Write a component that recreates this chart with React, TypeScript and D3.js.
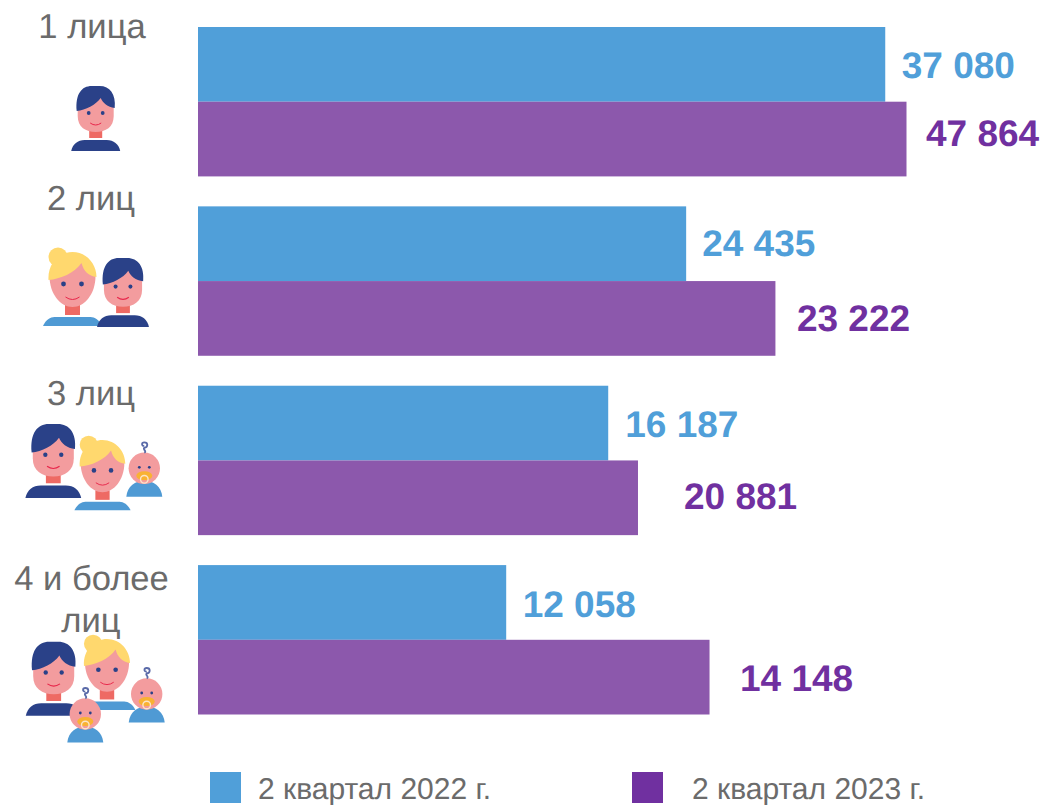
import React from "react";
import * as d3 from "d3";

const categories = ["1 лица", "2 лиц", "3 лиц", "4 и более лиц"];
const seriesNames = ["2 квартал 2022 г.", "2 квартал 2023 г."];
// Labels printed on the chart
const labels2022 = ["37 080", "24 435", "16 187", "12 058"];
const labels2023 = ["47 864", "23 222", "20 881", "14 148"];
// Drawn bar length in the picture, as % of the longest (the source bars are not proportional to the labels)
const bars2022 = [97.0, 68.9, 57.9, 43.5];
const bars2023 = [100, 81.5, 62.1, 72.2];
const gaps2022 = [16.5, 16, 17, 16.5];
const gaps2023 = [19.5, 21.5, 46, 30.5];
const shifts2022 = [1, -1, 1, 2];
const shifts2023 = [-6, 0, -2, 1];

const W = 1046, H = 805;
const BLUE = "#509FD9", PURPLE_BAR = "#8C58AC", PURPLE = "#7030A0";
const GREY = "#6B6B6B", FONT = "'Liberation Sans', Arial, sans-serif";
const NAVY = "#2A4188", SKIN = "#F39C9E", NECK = "#EE6A64", SMILE = "#E8274B", HAIR = "#FFD86E", SHIRT = "#4F9AD4", GOLD = "#F9B233";

const x = d3.scaleLinear().domain([0, 100]).range([198, 906.5]);
const y = d3.scaleBand<string>().domain(categories).range([27, 714.5]).paddingInner(0.167);
const sub = d3.scaleBand<number>().domain([0, 1]).range([0, y.bandwidth()]);

function Man({ cx, top, s }: { cx: number; top: number; s: number }) {
  return (
    <g transform={`translate(${cx},${top}) scale(${s})`}>
      <path d="M-24.5,65 C-23,58 -18,54 -11,54 H11 C18,54 23,58 24.5,65 Z" fill={NAVY} />
      <rect x={-6.5} y={44} width={13} height={8} fill={NECK} />
      <path d="M-18,18 Q0,-4 18,18 V30 C18,41 10,46 0,46 C-10,46 -18,41 -18,30 Z" fill={SKIN} />
      <path d="M-19,25 C-20.5,8 -14,0 -4,0 H4 C14,0 20.5,8 19,22 C12,21 7,17 5,12 C0,19 -10,24 -19,25 Z" fill={NAVY} />
      <circle cx={-7} cy={27} r={1.9} fill={NAVY} />
      <circle cx={7} cy={27} r={1.9} fill={NAVY} />
      <path d="M-5.5,37 Q0,41 5.5,37" fill="none" stroke={SMILE} strokeWidth={1} />
    </g>
  );
}

function Woman({ cx, top, s }: { cx: number; top: number; s: number }) {
  return (
    <g transform={`translate(${cx},${top}) scale(${s})`}>
      <path d="M-29.5,74 C-27,68 -22,65 -18,65 H18 C22,65 27,68 29.5,74 Z" fill={SHIRT} />
      <rect x={-7.5} y={53} width={15} height={10} fill={NECK} />
      <path d="M-23,24 Q0,-16 23,24 C23,42 12,55 0,55 C-12,55 -23,42 -23,24 Z" fill={SKIN} />
      <circle cx={-14.5} cy={5} r={9.5} fill={HAIR} />
      <path d="M-24,28 C-25,10 -12,0 0,0 C14,0 24,12 24,25 C16,24 11,19 9,11 C2,21 -12,27 -24,28 Z" fill={HAIR} />
      <circle cx={-9} cy={32} r={2.4} fill={NAVY} />
      <circle cx={9} cy={32} r={2.4} fill={NAVY} />
      <path d="M-7,45 Q0,50 7,45" fill="none" stroke={SMILE} strokeWidth={1} />
    </g>
  );
}

function Baby({ cx, cy }: { cx: number; cy: number }) {
  return (
    <g transform={`translate(${cx},${cy})`}>
      <path d="M-18,28.5 C-17,18 -9,12.5 0,12.5 C9,12.5 17,18 18,28.5 Z" fill={SHIRT} />
      <circle r={15.7} fill={SKIN} />
      <path d="M0,-15.5 C3,-17 -2,-19 0,-20.5 C4,-21 4,-26 0,-26 C-3,-26 -3,-22 0,-22.5" fill="none" stroke="#5A6AA8" strokeWidth={1.8} />
      <circle cx={-5} cy={-1} r={1.4} fill={NAVY} />
      <circle cx={5} cy={-1} r={1.4} fill={NAVY} />
      <ellipse cx={0} cy={7.5} rx={8} ry={4.5} fill={GOLD} />
      <circle cx={0} cy={11} r={3.8} fill="none" stroke="#FCE5C8" strokeWidth={1.4} />
    </g>
  );
}

export default function App() {
  const series = [
    { bars: bars2022, labels: labels2022, gaps: gaps2022, shifts: shifts2022, bar: BLUE, text: BLUE },
    { bars: bars2023, labels: labels2023, gaps: gaps2023, shifts: shifts2023, bar: PURPLE_BAR, text: PURPLE },
  ];
  return (
    <svg width={W} height={H} viewBox={`0 0 ${W} ${H}`} style={{ position: "absolute", left: 0, top: 0, background: "#fff" }} fontFamily={FONT} textRendering="geometricPrecision">
      {categories.map((c, i) =>
        series.map((s, j) => {
          const by = (y(c) as number) + (sub(j) as number);
          const bh = sub.bandwidth();
          const end = x(s.bars[i]);
          return (
            <g key={c + j}>
              <rect x={x(0)} y={by} width={end - x(0)} height={bh} fill={s.bar} />
              <text x={end + s.gaps[i]} y={by + bh / 2 + 13 + s.shifts[i]} fontSize={37} fontWeight={700} fill={s.text}>{s.labels[i]}</text>
            </g>
          );
        })
      )}

      <g fontSize={34.6} fill={GREY} textAnchor="middle">
        <text x={92} y={38}>1 лица</text>
        <text x={91} y={210}>2 лиц</text>
        <text x={91} y={405}>3 лиц</text>
        <text x={91.5} y={590}>4 и более</text>
        <text x={91} y={632}>лиц</text>
      </g>

      <Man cx={95.7} top={86} s={1} />

      <Woman cx={72.5} top={252} s={1} />
      <Man cx={123} top={258} s={1.06} />

      <Man cx={53.3} top={424} s={1.14} />
      <Woman cx={102.5} top={440} s={0.95} />
      <Baby cx={144.3} cy={468.3} />

      <Man cx={53.7} top={641.7} s={1.14} />
      <Woman cx={107} top={639} s={0.96} />
      <Baby cx={146.7} cy={694} />
      <Baby cx={85.3} cy={714} />

      <rect x={210} y={772} width={31} height={31} fill={BLUE} />
      <text x={258} y={798.5} fontSize={30} fill={GREY}>{seriesNames[0]}</text>
      <rect x={632} y={772} width={31} height={31} fill={PURPLE} />
      <text x={692} y={798.5} fontSize={30} fill={GREY}>{seriesNames[1]}</text>
    </svg>
  );
}
